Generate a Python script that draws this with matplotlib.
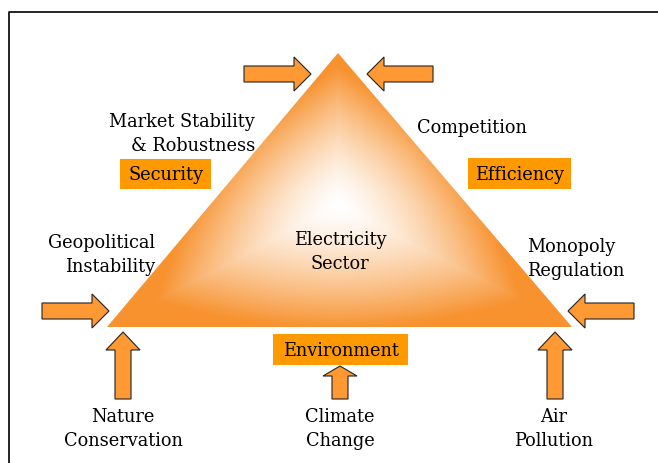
import numpy as np
import matplotlib
matplotlib.use("Agg")
import matplotlib.pyplot as plt
from matplotlib.patches import Polygon, FancyArrow, Rectangle
from matplotlib.colors import to_rgb

# ---- content ----
center_label = "Electricity\nSector"
box_labels = ["Security", "Efficiency", "Environment"]
side_labels = ["Market Stability\n& Robustness", "Competition",
               "Geopolitical\nInstability", "Monopoly\nRegulation",
               "Nature\nConservation", "Climate\nChange", "Air\nPollution"]

ORANGE = "#F7922F"
ARROW = "#FF9933"
BOX = "#FF9900"
FONT = "DejaVu Serif"
FS = 12.8

W, H = 658, 463
fig = plt.figure(figsize=(W / 100, H / 100), dpi=100)
ax = fig.add_axes([0, 0, 1, 1])
ax.set_xlim(0, W)
ax.set_ylim(H, 0)
ax.axis("off")

# frame (left and top edges visible)
ax.plot([9, 9, W + 5], [H + 5, 12, 12], color="black", lw=1.2, solid_capstyle="butt")

# triangle with path gradient (white centre -> orange outline)
tri = np.array([(338, 53), (107, 327), (572, 327)], dtype=float)
poly = Polygon(tri, closed=True, facecolor="none", edgecolor="none")
ax.add_patch(poly)
X, Y = np.meshgrid(np.arange(W) + 0.5, np.arange(H) + 0.5)
c = np.array([338.0, 205.0])
centroid = tri.mean(axis=0)
T = np.zeros_like(X)
for i in range(3):
    a, b = tri[i], tri[(i + 1) % 3]
    e = b - a
    n = np.array([e[1], -e[0]])
    if np.dot(n, centroid - a) > 0:
        n = -n
    n = n / np.linalg.norm(n)
    denom = np.dot(n, a - c)
    te = ((X - c[0]) * n[0] + (Y - c[1]) * n[1]) / denom
    T = np.maximum(T, te)
R = np.sqrt(((X - c[0]) / 170) ** 2 + ((Y - c[1]) / 125) ** 2)
T = 0.6 * T + 0.4 * R
s = np.clip(T, 0, 1) ** 1.45
c0 = np.array(to_rgb("#FFFFFF"))
c1 = np.array(to_rgb(ORANGE))
img = c0[None, None, :] * (1 - s[..., None]) + c1[None, None, :] * s[..., None]
im = ax.imshow(img, extent=(0, W, H, 0), origin="upper", zorder=1, interpolation="bilinear")
im.set_clip_path(poly)

def arrow(x0, y0, x1, y1, hl, w=16, hw=34):
    a = FancyArrow(x0, y0, x1 - x0, y1 - y0, width=w, head_width=hw, head_length=hl,
                   length_includes_head=True, facecolor=ARROW, edgecolor="#222222",
                   lw=0.8, zorder=3)
    ax.add_patch(a)

arrow(244, 74, 311, 74, 17)
arrow(433, 74, 367, 74, 17)
arrow(42, 311, 109, 311, 17)
arrow(634, 311, 568, 311, 17)
arrow(123, 399, 123, 332, 18)
arrow(340, 399, 340, 366, 10)
arrow(555, 399, 555, 332, 18)

def boxed(x0, y0, x1, y1, text):
    ax.add_patch(Rectangle((x0, y0), x1 - x0, y1 - y0, facecolor=BOX, edgecolor="none", zorder=2))
    ax.text((x0 + x1) / 2, (y0 + y1) / 2 + 1, text, ha="center", va="center",
            fontsize=FS, family=FONT, zorder=4)

boxed(120, 159, 211, 189, box_labels[0])
boxed(468, 158, 571, 189, box_labels[1])
boxed(273, 334, 408, 365, box_labels[2])

kw = dict(fontsize=FS, family=FONT, zorder=4, linespacing=1.45)
ax.text(255, 134, side_labels[0], ha="right", va="center", multialignment="right", **kw)
ax.text(472, 128, side_labels[1], ha="center", va="center", **kw)
ax.text(155, 255, side_labels[2], ha="right", va="center", multialignment="right", **kw)
ax.text(527, 259, side_labels[3], ha="left", va="center", multialignment="left", **kw)
ax.text(123, 429, side_labels[4], ha="center", va="center", multialignment="center", **kw)
ax.text(340, 429, side_labels[5], ha="center", va="center", multialignment="center", **kw)
ax.text(554, 429, side_labels[6], ha="center", va="center", multialignment="center", **kw)
ax.text(340, 252, center_label, ha="center", va="center", multialignment="center", **kw)

fig.savefig("out.png", dpi=100)
